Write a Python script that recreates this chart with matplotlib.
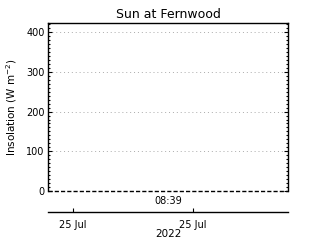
import matplotlib
matplotlib.use('Agg')
import matplotlib.pyplot as plt
import matplotlib.ticker as mticker

# data: hours since 25 Jul 2022 00:00, insolation (W m-2)
hours = [0.0, 24.0]
insolation = [0.0, 0.0]

tick_hours = [2.5, 14.5]
tick_labels = ['25 Jul', '25 Jul']
year_label = '2022'
time_label = '08:39'
title = 'Sun at Fernwood'
y_ticks = [0, 100, 200, 300, 400]

plt.rcParams.update({
    'font.family': 'DejaVu Sans',
    'font.size': 7,
})

fig = plt.figure(figsize=(3.2, 2.4), dpi=100)
fig.patch.set_facecolor('white')

# main panel
ax = fig.add_axes([47.5 / 320, 1 - 191 / 240, 240.5 / 320, 168 / 240])
ax.plot(hours, insolation, color='black', linestyle=(0, (3, 1.5)), linewidth=1.0,
        clip_on=False, zorder=5)
ax.set_xlim(0, 24)
ax.set_ylim(0, 423)
ax.set_xticks([])
ax.yaxis.set_major_locator(mticker.FixedLocator(y_ticks))
ax.yaxis.set_minor_locator(mticker.MultipleLocator(10))
ax.tick_params(axis='y', which='both', direction='in', left=True, right=True,
               width=0.8, pad=2)
ax.tick_params(axis='y', which='major', length=3)
ax.tick_params(axis='y', which='minor', length=1.5)
ax.spines['bottom'].set_visible(False)
for s in ['left', 'right', 'top']:
    ax.spines[s].set_linewidth(1.0)
ax.grid(True, axis='y', which='major', color='#aaaaaa', linestyle=(0, (1, 3)),
        linewidth=0.7)
ax.set_ylabel('Insolation (W m$^{-2}$)', fontsize=7.5, labelpad=5)

# separate time axis below
ax2 = fig.add_axes([47.5 / 320, 1 - 212 / 240, 240.5 / 320, 0.001])
ax2.set_xlim(0, 24)
ax2.set_yticks([])
for s in ['left', 'right', 'top']:
    ax2.spines[s].set_visible(False)
ax2.spines['bottom'].set_linewidth(1.0)
ax2.set_xticks(tick_hours)
ax2.set_xticklabels(tick_labels)
ax2.tick_params(axis='x', direction='in', length=3, width=0.8, pad=6)
ax2.patch.set_visible(False)

fig.text(168 / 320, 1 - 14 / 240, title, ha='center', va='center', fontsize=9)
fig.text(168 / 320, 1 - 201 / 240, time_label, ha='center', va='center', fontsize=7)
fig.text(168 / 320, 1 - 234 / 240, year_label, ha='center', va='center', fontsize=7.5)

fig.savefig('out.png', dpi=100, facecolor='white')
